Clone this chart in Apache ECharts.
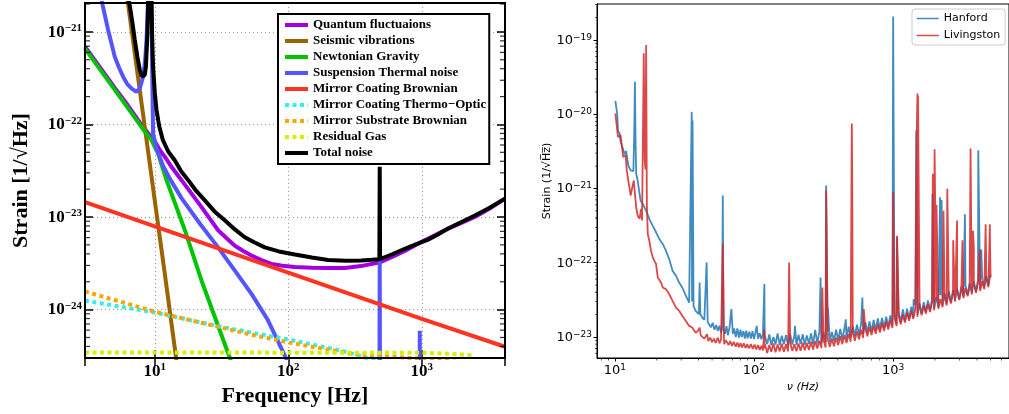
<!DOCTYPE html>
<html><head><meta charset="utf-8">
<script src="https://cdn.jsdelivr.net/npm/echarts@6/dist/echarts.min.js"></script>
<style>html,body{margin:0;padding:0;background:#fff}#c{width:1009px;height:414px}</style>
</head><body><div id="c"></div><script>
// ---------- LEFT PANEL: noise budget, [frequency Hz, strain 1/sqrt(Hz)] ----------
const quantum = [[3,6.9e-22],[4,3.9e-22],[5,2.5e-22],[6.3,1.6e-22],[7.7,1.06e-22],[9,7.9e-23],[10,6.6e-23],[10.8,5.4e-23],[11.9,4.46e-23],[13.5,3.4e-23],[15.85,2.5e-23],[18.8,1.8e-23],[22.4,1.28e-23],[25.8,9.6e-24],[29.8,7.2e-24],[34.5,5.9e-24],[39.8,4.9e-24],[46,4.3e-24],[53,3.84e-24],[63,3.42e-24],[74.8,3.12e-24],[90,2.97e-24],[112,2.88e-24],[150,2.83e-24],[200,2.81e-24],[265,2.82e-24],[350,2.95e-24],[484,3.24e-24],[600,3.7e-24],[746,4.3e-24],[1000,5.4e-24],[1486,7.2e-24],[2000,8.7e-24],[2495,1.0e-23],[3200,1.23e-23],[4200,1.58e-23]];
const seismic = [[6,3.4e-21],[8,1.6e-22],[10,1.5e-23],[12,2.2e-24],[15,2.0e-25]];
const newtonian = [[3,6.6e-22],[5,2.38e-22],[7.94,9.4e-23],[9.43,6.8e-23],[10.6,4.8e-23],[12.24,2.5e-23],[16.8,7.2e-24],[22.4,2.05e-24],[36.5,3.0e-25],[45,1.3e-25]];
const suspension = [[3.7,3.2e-21],[3.99,2.2e-21],[4.47,1.05e-21],[5.01,5.4e-22],[5.4,4.1e-22],[5.79,3.28e-22],[6.2,2.75e-22],[6.68,2.45e-22],[7.29,2.25e-22],[7.72,2.45e-22],[8.17,3.28e-22],[8.45,4.8e-22],[8.67,8.2e-22],[8.92,2.5e-21],[9.2,1e-20],[9.45,1.5e-21],[9.6,2.5e-22],[9.71,8e-23],[10.3,5.5e-23],[11.5,3.6e-23],[12.95,2.6e-23],[15.85,1.6e-23],[22,8.3e-24],[29.8,4.7e-24],[40,2.6e-24],[53,1.48e-24],[70,7.8e-25],[94,3.2e-25],[120,1.5e-25],[200,4e-26],[478,1e-27],[484,3.4e-24],[490,1e-27],[960,1e-27],[966,5.9e-25],[972,1e-27]];
const coatingBrownian = [[3,1.45e-23],[10,7.94e-24],[100,2.51e-24],[1000,7.94e-25],[4200,3.97e-25]];
const thermoOptic = [[3,1.25e-24],[10,9.3e-25],[30,6.6e-25],[112,4.6e-25],[250,3.6e-25],[420,2.9e-25],[600,2.4e-25]];
const substrateBrownian = [[3,1.57e-24],[10,9.5e-25],[30,6.5e-25],[51.5,5.4e-25],[102,4.4e-25],[289,3.35e-25],[484,3.15e-25],[1000,2.95e-25],[2000,2.7e-25]];
const residualGas = [[3,3.44e-25],[1000,3.42e-25],[1500,3.35e-25],[2500,3.2e-25]];
const totalNoise = [[6.3,2.3e-21],[6.5,1.9e-21],[6.8,1.25e-21],[7.08,8.2e-22],[7.4,5.4e-22],[7.72,3.9e-22],[8.0,3.3e-22],[8.17,3.15e-22],[8.4,3.4e-22],[8.58,4.2e-22],[8.81,9.7e-22],[8.95,2.5e-21],[9.2,1e-20],[9.44,2.5e-21],[9.55,9e-22],[9.71,4.2e-22],[10.0,2.2e-22],[10.3,1.43e-22],[10.8,9.5e-23],[11.5,6.76e-23],[12.6,5.1e-23],[14.1,4.1e-23],[15.8,3.1e-23],[17.8,2.5e-23],[20.5,1.9e-23],[23.7,1.51e-23],[28,1.15e-23],[33.4,9.2e-24],[40,7.3e-24],[47.2,6.05e-24],[56,5.3e-24],[66.7,4.7e-24],[85,4.25e-24],[112,3.94e-24],[150,3.65e-24],[199,3.44e-24],[270,3.38e-24],[353,3.39e-24],[420,3.45e-24],[481,3.5e-24],[484,3.5e-23],[487,3.52e-24],[600,3.95e-24],[746,4.54e-24],[900,5.05e-24],[1115,5.7e-24],[1300,6.4e-24],[1574,7.5e-24],[2000,8.9e-24],[2495,1.04e-23],[3200,1.25e-23],[4200,1.58e-23]];
const leftNames = ['Quantum fluctuaions','Seismic vibrations','Newtonian Gravity','Suspension Thermal noise','Mirror Coating Brownian','Mirror Coating Thermo\u2212Optic','Mirror Substrate Brownian','Residual Gas','Total noise'];
const leftYMinor = [4e-25,5e-25,6e-25,7e-25,8e-25,9e-25,2e-24,3e-24,4e-24,5e-24,6e-24,7e-24,8e-24,9e-24,2e-23,3e-23,4e-23,5e-23,6e-23,7e-23,8e-23,9e-23,2e-22,3e-22,4e-22,5e-22,6e-22,7e-22,8e-22,9e-22,2e-21];

// ---------- RIGHT PANEL: measured spectra, strain in units of 1e-23 ----------
const hanfordLow = [[10.1,1513],[10.4,1022],[10.55,595],[10.85,548],[10.96,445],[11.2,389],[11.45,370],[11.65,309],[11.85,288],[12.05,319],[12.25,265],[12.5,205],[12.79,209],[13.0,175],[13.3,166],[13.6,171],[13.8,608],[13.95,2730],[14.1,445],[14.25,158],[14.6,128],[15.3,69],[15.9,62],[16.8,50],[17.7,39],[18.7,31.6],[19.8,25.7],[20.9,20.9],[22.1,17.9],[23.3,14.5],[24.6,11.2],[26,7.8],[27.5,6.7],[29,5.4],[30.6,4.6],[32.4,3.6],[34.2,2.9],[35.2,2.8],[35.5,2.8],[35.7,1075],[35.9,3.0],[36.2,820],[36.5,830],[36.8,2.6],[38.1,2.25],[40.2,2.03],[40.7,5.4],[41.2,2.0],[42.6,1.82],[44,1.7],[45.7,10.1],[46.5,1.6],[47.5,1.48],[49,1.35],[50.5,1.55],[52,1.25],[53.5,1.45],[55,1.2],[56.5,1.42],[58,1.15],[59,1.27],[59.7,80.4],[60.4,1.3],[62,1.1],[63.5,1.4],[65,1.05],[66.7,1.35],[68.8,2.37],[70.5,1.1],[72,1.3],[74,1.0],[76,1.3],[78,0.98],[80,1.25],[81.7,1.0],[84,1.2],[86,0.95],[88,1.22],[90,0.96],[92.5,1.18],[95,0.95],[97.5,1.2],[100,0.94],[102.5,1.15],[104.7,1.41],[107,0.95],[110,1.12],[113,0.93],[116,1.1],[118.8,5.15],[119.5,0.95]];
const livingstonLow = [[10.1,1022],[10.3,969],[10.45,576],[10.55,493],[10.8,507],[11.0,520],[11.27,361],[11.5,265],[11.8,271],[11.97,279],[12.2,175],[12.5,128],[12.79,99],[13.0,80.4],[13.36,104],[13.7,128],[13.95,84.7],[14.26,55],[14.6,43.2],[15.06,39],[15.45,53.2],[15.7,37],[15.95,38],[16.15,6610],[16.4,240],[16.6,180],[16.8,8560],[17.0,60],[17.26,24.4],[17.7,19.8],[18.2,14.5],[18.75,11.8],[19.25,10.6],[19.8,9.6],[20.35,6.33],[20.9,6.67],[21.5,5.42],[22.1,4.63],[23.3,4.41],[24.6,3.78],[26,3.06],[27.5,2.49],[29,2.25],[30.6,1.92],[32.4,1.64],[34.2,1.41],[36,1.34],[38.1,1.14],[39.5,1.2],[40.7,1.34],[41.5,1.05],[42.6,1.03],[44,0.95],[46,1.09],[47,0.88],[48.5,0.98],[50,0.85],[51.5,0.95],[53,0.83],[55,0.98],[56.5,0.82],[58,0.92],[59.7,18.2],[61,0.8],[63,0.9],[65.7,0.78],[67.5,0.88],[69.5,0.76],[71.5,0.86],[74,0.74],[76,0.84],[78,0.73],[80,0.83],[82,0.72],[84.5,0.82],[87,0.71],[89.5,0.8],[92,0.7],[95,0.8],[98,0.69],[101,0.79],[104,0.68],[107,0.78],[110,0.67],[113,0.76],[116,0.66],[118.8,1.27],[119.5,0.7]];
const bandFreq = [120,124.5,128.8,133.4,138,142.9,147.9,153.1,158.5,164.1,169.8,175.8,182,188.4,195,201.8,208.9,216.3,223.9,231.7,239.9,248.3,257,266.1,275.4,285.1,295.1,305.5,316.2,327.3,338.8,350.8,363.1,375.8,389,402.7,416.9,431.5,446.7,462.4,478.6,495.5,512.9,530.9,549.5,568.9,588.8,609.5,631,653.1,676.1,699.8,724.4,749.9,776.2,803.5,831.8,861,891.3,922.6,955,988.6,1023,1059,1096,1135,1175,1216,1259,1303,1349,1396,1445,1496,1549,1603,1660,1718,1778,1841,1905,1972,2042,2113,2188,2265,2344,2427,2512,2600,2692,2786,2884,2985,3090,3199,3311,3428,3548,3673,3802,3936,4074,4217,4365,4519,4677,4842,5012];
const hanfordBand = [1.02,0.80,1.08,0.77,1.00,0.79,1.12,0.78,1.04,0.80,1.06,0.77,1.10,0.79,1.03,0.78,1.07,0.80,1.09,0.79,1.05,0.81,1.12,0.80,1.25,0.82,1.18,0.83,1.15,0.84,1.20,0.86,1.17,0.88,1.25,0.90,1.28,0.93,1.30,0.95,1.38,0.98,1.40,1.03,1.47,1.06,1.52,1.10,1.58,1.15,1.62,1.18,1.70,1.23,1.78,1.27,1.80,1.32,1.88,1.38,1.95,1.43,2.05,1.50,2.15,1.60,2.35,1.65,2.40,1.75,2.55,1.85,2.70,1.98,2.85,2.08,2.95,2.18,3.10,2.28,3.25,2.40,3.45,2.52,3.65,2.65,3.85,2.82,4.15,3.00,4.30,3.15,4.50,3.30,4.75,3.50,5.00,3.70,5.30,3.90,5.60,4.15,5.90,4.40,6.20,4.65,6.60,4.95,7.00];
const livingstonBand = [0.80,0.61,0.78,0.63,0.82,0.62,0.79,0.64,0.81,0.63,0.80,0.64,0.83,0.65,0.80,0.64,0.82,0.65,0.84,0.66,0.83,0.67,0.86,0.68,0.88,0.70,0.89,0.71,0.91,0.72,0.93,0.74,0.95,0.75,0.98,0.78,1.02,0.80,1.06,0.83,1.10,0.86,1.14,0.89,1.19,0.93,1.25,0.97,1.30,1.02,1.36,1.06,1.42,1.10,1.48,1.15,1.55,1.20,1.62,1.26,1.70,1.32,1.80,1.40,1.90,1.48,2.00,1.56,2.12,1.65,2.25,1.75,2.40,1.86,2.52,1.96,2.65,2.06,2.78,2.16,2.92,2.27,3.08,2.40,3.25,2.52,3.42,2.66,3.62,2.82,3.82,2.98,4.05,3.15,4.28,3.33,4.52,3.52,4.78,3.72,5.05,3.93,5.35,4.16,5.65,4.40,5.98,4.66,6.30];
const hanfordSpikes = [[197,1.41],[301,6.33],[330,110],[340,2.49],[457,1.73],[601,3.4],[998,4400],[1000,20650],[1066,22],[1403,3.23],[1466,608],[1918,84.8],[2174,76.3],[2230,70],[3280,45],[4090,326],[4300,15]];
const livingstonSpikes = [[179,10.1],[310,4.63],[330,94],[503,300],[505,749],[508,142],[615,2.37],[1000,89],[1066,23],[1475,474],[1495,1905],[1510,1750],[1930,158],[1985,337],[2050,60],[2300,50],[2450,99],[2700,20],[2880,37],[3150,20],[3600,344],[3750,27],[3800,16],[4200,15],[4620,33],[4950,33]];
const UNIT = 1e-23;
const rightXMinor = [8,9,20,30,40,50,60,70,80,90,200,300,400,500,600,700,800,900,2000,3000,4000,5000,6000];
const rightYMinor = [6e-24,7e-24,8e-24,9e-24,2e-23,3e-23,4e-23,5e-23,6e-23,7e-23,8e-23,9e-23,2e-22,3e-22,4e-22,5e-22,6e-22,7e-22,8e-22,9e-22,2e-21,3e-21,4e-21,5e-21,6e-21,7e-21,8e-21,9e-21,2e-20,3e-20,4e-20,5e-20,6e-20,7e-20,8e-20,9e-20,2e-19,3e-19];

function buildSpectrum(low, band, spikes) {
  const all = [].concat(low, bandFreq.map((f, i) => [f, band[i]]), spikes);
  all.sort((a, b) => a[0] - b[0]);
  return all.map(p => [p[0], p[1] * UNIT]);
}
const hanfordData = buildSpectrum(hanfordLow, hanfordBand, hanfordSpikes);
const livingstonData = buildSpectrum(livingstonLow, livingstonBand, livingstonSpikes);

const serif = 'Liberation Serif';
const sans = 'DejaVu Sans';
function supLabel(v) {
  const e = Math.round(Math.log10(v));
  return '{b|10}{s|' + (e < 0 ? '\u2212' + (-e) : String(e)) + '}';
}
const leftRich = {
  b: {fontFamily: serif, fontWeight: 'bold', fontSize: 17, lineHeight: 18, verticalAlign: 'bottom', color: '#000'},
  s: {fontFamily: serif, fontWeight: 'bold', fontSize: 11, lineHeight: 10, verticalAlign: 'top', color: '#000'}
};
const rightRich = {
  b: {fontFamily: sans, fontSize: 13, lineHeight: 14, verticalAlign: 'bottom', color: '#000'},
  s: {fontFamily: sans, fontSize: 9, lineHeight: 8, verticalAlign: 'top', color: '#000'}
};

const leftColors = ['#a300e0', '#9a6400', '#00c400', '#5555ff', '#ff3322', '#33f0ee', '#ffa500', '#d2f000', '#000000'];
const leftData = [quantum, seismic, newtonian, suspension, coatingBrownian, thermoOptic, substrateBrownian, residualGas, totalNoise];
const dotted = [4, 3.5];
const leftSeries = leftNames.map((n, i) => ({
  type: 'line', name: n, data: leftData[i], xAxisIndex: 0, yAxisIndex: 0,
  symbol: 'none', showSymbol: false, clip: true, z: 2 + i,
  lineStyle: {color: leftColors[i], width: 4, type: (i >= 5 && i <= 7) ? dotted : 'solid', cap: 'butt'},
  itemStyle: {color: leftColors[i]}
}));

function tickMarks(points, xi, yi, size, offset) {
  return {type: 'scatter', data: points, xAxisIndex: xi, yAxisIndex: yi, symbol: 'rect',
    symbolSize: size, symbolOffset: offset, itemStyle: {color: '#000'}, silent: true, clip: false, z: 40,
    emphasis: {disabled: true}};
}

const LX = [3, 4200], LY = [3e-25, 2.05e-21], RX = [7.45, 6800], RY = [5.21e-24, 3.05e-19];
const leftXBase = {type: 'log', logBase: 10, min: LX[0], max: LX[1], gridIndex: 0};
const leftYBase = {type: 'log', logBase: 10, min: LY[0], max: LY[1], gridIndex: 0};
const rightXBase = {type: 'log', logBase: 10, min: RX[0], max: RX[1], gridIndex: 1};
const rightYBase = {type: 'log', logBase: 10, min: RY[0], max: RY[1], gridIndex: 1};

const option = {
  animation: false,
  backgroundColor: '#fff',
  grid: [
    {left: 85, top: 3, width: 420, height: 355, show: true, borderColor: '#000', borderWidth: 2, backgroundColor: 'transparent', z: 10},
    {left: 597, top: 4, width: 416, height: 354, show: true, borderColor: '#000', borderWidth: 1, backgroundColor: 'transparent'}
  ],
  xAxis: [
    Object.assign({}, leftXBase, {
      position: 'bottom', axisLine: {show: false},
      axisTick: {show: true, inside: true, length: 8, lineStyle: {color: '#000', width: 1.5}},
      minorTick: {show: false},
      axisLabel: {formatter: supLabel, rich: leftRich, margin: 4, showMinLabel: false, showMaxLabel: false},
      splitLine: {show: true, lineStyle: {color: '#999', type: [1, 3], width: 1}},
      name: 'Frequency [Hz]', nameLocation: 'middle', nameGap: 27,
      nameTextStyle: {fontFamily: serif, fontWeight: 'bold', fontSize: 22, color: '#000'}
    }),
    Object.assign({}, leftXBase, {
      position: 'top', axisLine: {show: false},
      axisTick: {show: true, inside: true, length: 8, lineStyle: {color: '#000', width: 1.5}},
      minorTick: {show: false},
      axisLabel: {show: false}, splitLine: {show: false}
    }),
    Object.assign({}, rightXBase, {
      position: 'bottom', axisLine: {show: true, lineStyle: {color: '#000', width: 1}},
      axisTick: {show: true, inside: false, length: 3.5, lineStyle: {color: '#000', width: 1}},
      minorTick: {show: false},
      axisLabel: {formatter: supLabel, rich: rightRich, margin: 5, showMinLabel: false, showMaxLabel: false},
      splitLine: {show: false},
      name: '\u03bd (Hz)', nameLocation: 'middle', nameGap: 24,
      nameTextStyle: {fontFamily: sans, fontStyle: 'italic', fontSize: 11, color: '#000'}
    })
  ],
  yAxis: [
    Object.assign({}, leftYBase, {
      position: 'left', axisLine: {show: false},
      axisTick: {show: true, inside: true, length: 8, lineStyle: {color: '#000', width: 1.5}},
      minorTick: {show: false},
      axisLabel: {formatter: supLabel, rich: leftRich, margin: 3, showMinLabel: false, showMaxLabel: false},
      splitLine: {show: true, lineStyle: {color: '#999', type: [1, 3], width: 1}},
      name: 'Strain [1/\u221AHz]', nameLocation: 'middle', nameGap: 53, nameRotate: 90,
      nameTextStyle: {fontFamily: serif, fontWeight: 'bold', fontSize: 22, color: '#000'}
    }),
    Object.assign({}, leftYBase, {
      position: 'right', axisLine: {show: false},
      axisTick: {show: true, inside: true, length: 8, lineStyle: {color: '#000', width: 1.5}},
      minorTick: {show: false},
      axisLabel: {show: false}, splitLine: {show: false}
    }),
    Object.assign({}, rightYBase, {
      position: 'left', axisLine: {show: true, lineStyle: {color: '#000', width: 1}},
      axisTick: {show: true, inside: false, length: 3.5, lineStyle: {color: '#000', width: 1}},
      minorTick: {show: false},
      axisLabel: {formatter: supLabel, rich: rightRich, margin: 5, showMinLabel: false, showMaxLabel: false},
      splitLine: {show: false},
      name: 'Strain (1/\u221AH\u0305z\u0305)', nameLocation: 'middle', nameGap: 43, nameRotate: 90,
      nameTextStyle: {fontFamily: sans, fontSize: 11, color: '#000'}
    })
  ],
  legend: [
    {
      data: leftNames, left: 278, top: 14, orient: 'vertical', selectedMode: false,
      itemWidth: 23, itemHeight: 14, itemGap: 2, padding: [4, 3, 4, 5],
      borderColor: '#000', borderWidth: 2, backgroundColor: '#fff', z: 20,
      lineStyle: {width: 4}, itemStyle: {opacity: 0},
      textStyle: {fontFamily: serif, fontWeight: 'bold', fontSize: 13, lineHeight: 14, color: '#000'}
    },
    {
      data: ['Hanford', 'Livingston'], left: 912, top: 9, orient: 'vertical', selectedMode: false,
      itemWidth: 22, itemHeight: 10, itemGap: 6, padding: [4, 5, 4, 4],
      borderColor: '#cccccc', borderWidth: 1, borderRadius: 3, backgroundColor: 'rgba(255,255,255,0.85)',
      lineStyle: {width: 1.5}, itemStyle: {opacity: 0},
      textStyle: {fontFamily: sans, fontSize: 11, color: '#000'}
    }
  ],
  series: leftSeries.concat([
    {type: 'line', name: 'Hanford', data: hanfordData, xAxisIndex: 2, yAxisIndex: 2, symbol: 'none', showSymbol: false, clip: true,
     lineStyle: {color: '#1f77b4', width: 1.8, opacity: 0.85}, itemStyle: {color: '#1f77b4'}},
    {type: 'line', name: 'Livingston', data: livingstonData, xAxisIndex: 2, yAxisIndex: 2, symbol: 'none', showSymbol: false, clip: true,
     lineStyle: {color: '#d62728', width: 1.8, opacity: 0.85}, itemStyle: {color: '#d62728'}},
    tickMarks(leftYMinor.map(v => [LX[0], v]), 0, 0, [4, 1.2], [3, 0]),
    tickMarks(leftYMinor.map(v => [LX[1], v]), 0, 0, [4, 1.2], [-3, 0]),
    tickMarks(rightYMinor.map(v => [RX[0], v]), 2, 2, [2, 0.8], [-1, 0]),
    tickMarks(rightXMinor.map(f => [f, RY[0]]), 2, 2, [0.8, 2], [0, 1.5])
  ])
};
const chart = echarts.init(document.getElementById('c'), null, {renderer: 'canvas'});
chart.setOption(option);
</script></body></html>
